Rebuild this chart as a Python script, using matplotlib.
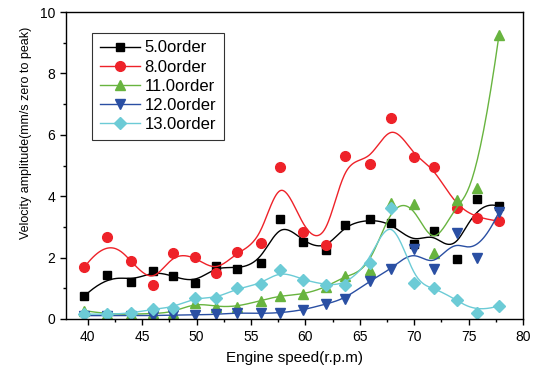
import numpy as np
import matplotlib
matplotlib.use("Agg")
import matplotlib.pyplot as plt
from matplotlib.ticker import MultipleLocator

plt.rcParams['font.family'] = ['Liberation Sans', 'DejaVu Sans']

# engine speed (r.p.m) of every measured point
speed = [39.7, 41.8, 44.0, 46.0, 47.8, 49.9, 51.8, 53.7, 55.9, 57.7,
         59.8, 61.9, 63.6, 65.9, 67.9, 70.0, 71.8, 73.9, 75.8, 77.8]

order5 = [0.75, 1.44, 1.20, 1.57, 1.40, 1.17, 1.73, 1.63, 1.84, 3.25,
          2.50, 2.24, 3.07, 3.25, 3.13, 2.44, 2.86, 1.94, 3.92, 3.67]
order8 = [1.69, 2.68, 1.89, 1.10, 2.16, 2.03, 1.51, 2.19, 2.49, 4.95,
          2.84, 2.40, 5.30, 5.04, 6.54, 5.28, 4.95, 3.60, 3.28, 3.19]
order11 = [0.27, 0.16, 0.15, 0.18, 0.21, 0.53, 0.40, 0.40, 0.60, 0.76,
           0.80, 1.03, 1.40, 1.59, 3.79, 3.76, 2.16, 3.87, 4.27, 9.26]
order12 = [0.11, 0.11, 0.11, 0.11, 0.13, 0.13, 0.15, 0.20, 0.18, 0.20,
           0.29, 0.49, 0.65, 1.24, 1.63, 2.28, 1.62, 2.79, 2.00, 3.49]
order13 = [0.16, 0.15, 0.18, 0.33, 0.37, 0.70, 0.67, 1.00, 1.13, 1.59,
           1.27, 1.11, 1.11, 1.81, 3.62, 1.16, 1.02, 0.62, 0.21, 0.43]

labels = ["5.0order", "8.0order", "11.0order", "12.0order", "13.0order"]
series = [order5, order8, order11, order12, order13]
colors = ["#000000", "#ee2229", "#68b43f", "#2a4fa3", "#6ccbd6"]
markers = ["s", "o", "^", "v", "D"]
sizes = [6, 7, 7, 7, 6]


def bspline(x, y, n=500, k=3):
    # clamped cubic B-spline using the data points as control points
    P = np.column_stack([x, y])
    m = len(P)
    knots = np.concatenate([np.zeros(k), np.linspace(0, 1, m - k + 1), np.ones(k)])
    t = np.linspace(0, 1, n)
    t[-1] -= 1e-9
    N = np.zeros((n, len(knots) - 1))
    for i in range(len(knots) - 1):
        N[:, i] = (t >= knots[i]) & (t < knots[i + 1])
    for d in range(1, k + 1):
        Nn = np.zeros((n, len(knots) - 1 - d))
        for i in range(len(knots) - 1 - d):
            a = 0.0
            b = 0.0
            den = knots[i + d] - knots[i]
            if den > 0:
                a = (t - knots[i]) / den * N[:, i]
            den2 = knots[i + d + 1] - knots[i + 1]
            if den2 > 0:
                b = (knots[i + d + 1] - t) / den2 * N[:, i + 1]
            Nn[:, i] = a + b
        N = Nn
    c = N @ P
    return c[:, 0], c[:, 1]


fig = plt.figure(figsize=(5.44, 3.72), dpi=100)
ax = fig.add_axes([0.1213, 0.1425, 0.8401, 0.8252])

for lab, ys, col, mk, ms in zip(labels, series, colors, markers, sizes):
    sx, sy = bspline(speed, ys)
    ax.plot(sx, sy, color=col, lw=1.0)
    ax.plot(speed, ys, ls="none", marker=mk, ms=ms, color=col, mec=col)
    # legend proxy
    ax.plot([], [], color=col, lw=1.0, marker=mk, ms=ms, label=lab)

ax.set_xlim(38, 80)
ax.set_ylim(0, 10)
ax.xaxis.set_major_locator(MultipleLocator(5))
ax.xaxis.set_minor_locator(MultipleLocator(2.5))
ax.yaxis.set_major_locator(MultipleLocator(2))
ax.yaxis.set_minor_locator(MultipleLocator(1))
ax.tick_params(which="both", direction="out", top=False, right=False, labelsize=10)
ax.tick_params(which="major", length=4, width=1, pad=4)
ax.tick_params(which="minor", length=2.5, width=1)
for s in ax.spines.values():
    s.set_linewidth(1.0)

ax.set_xlabel("Engine speed(r.p.m)", fontsize=11, labelpad=5)
ax.set_ylabel("Velocity amplitude(mm/s zero to peak)", fontsize=9)
ax.yaxis.set_label_coords(-0.074, 0.606)

leg = ax.legend(loc="upper left", bbox_to_anchor=(0.057, 0.932), fontsize=12,
                frameon=True, fancybox=False, edgecolor="black",
                handlelength=2.4, handletextpad=0.3, borderpad=0.45,
                labelspacing=0.25, borderaxespad=0)
leg.get_frame().set_linewidth(0.8)

fig.savefig("out.png", dpi=100)
